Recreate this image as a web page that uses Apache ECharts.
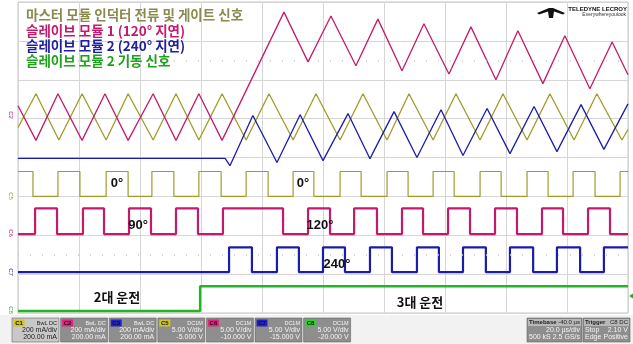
<!DOCTYPE html>
<html>
<head>
<meta charset="utf-8">
<script src="https://cdn.jsdelivr.net/npm/echarts@6/dist/echarts.min.js"></script>
<style>
html, body { margin: 0; padding: 0; background: #fff; }
#chart { width: 633px; height: 344px; }
</style>
</head>
<body>
<div id="chart"></div>
<script>
// time in us (20 us/div, 10 div), level in screen divisions (0 = bottom, 8 = top)
// inductor currents: vertices of the triangle waves [t, div]
var masterCurrent = [[0,4.77],[5.9,5.64],[13.4,4.45],[21.0,5.64],[28.9,4.45],[36.1,5.64],[44.3,4.45],[51.8,5.64],[59.3,4.45],[66.9,5.64],[74.8,4.45],[82.3,5.64],[90.2,4.45],[97.7,5.64],[105.6,4.45],[113.1,5.64],[121.0,4.45],[128.2,5.64],[136.1,4.45],[143.6,5.64],[151.5,4.45],[159.0,5.64],[166.9,4.45],[174.4,5.64],[182.3,4.45],[189.8,5.64],[198.0,4.45],[200,4.72]];
var slave1Current = [[0,5.33],[5.9,4.44],[13.1,5.64],[21.0,4.44],[28.5,5.64],[36.1,4.44],[44.3,5.64],[51.8,4.44],[59.3,5.64],[66.9,4.44],[87.2,7.74],[95.1,6.46],[102.6,7.64],[110.8,6.36],[118.0,7.56],[125.9,6.23],[133.1,7.44],[141.3,6.15],[148.5,7.36],[156.7,6.0],[163.9,7.26],[172.1,5.90],[179.3,7.13],[187.5,5.77],[194.8,6.97],[200,6.13]];
var slave2Current = [[0,3.98],[67.9,3.98],[69.5,3.79],[77.0,5.08],[84.9,3.87],[92.5,5.10],[100.0,3.92],[108.2,5.13],[115.4,3.97],[123.3,5.18],[130.8,4.0],[138.7,5.23],[145.9,4.05],[153.8,5.26],[161.3,4.10],[169.2,5.31],[176.7,4.15],[184.6,5.36],[192.1,4.21],[200,5.38]];

// gate signals: edge times (us), levels [low, high], starting level
var masterGateEdges = [4.9,13.1,20.3,28.9,36.1,43.9,51.1,59.3,66.6,74.8,82.0,90.2,97.0,105.6,112.5,121.0,127.9,136.1,143.0,151.5,158.4,166.9,173.8,182.0,189.2,197.4];
var masterGateLevel = [3.0, 3.64];
var slave1GateEdges = [5.6,12.8,21.3,28.2,36.4,43.6,51.8,59.0,67.2,86.9,95.1,102.3,110.2,117.7,125.9,132.8,141.0,148.2,156.4,163.6,171.8,178.7,186.9,194.1];
var slave1GateLevel = [2.03, 2.69];
var slave2GateEdges = [69.2,76.7,84.9,92.1,100.0,107.2,115.4,122.6,130.8,138.0,145.9,153.4,161.3,168.9,176.7,184.3,192.1];
var slave2GateLevel = [1.05, 1.69];
var startEdges = [59.7];
var startLevel = [0.05, 0.69];

var legendLines = ['마스터 모듈 인덕터 전류 및 게이트 신호', '슬레이브 모듈 1 (120° 지연)', '슬레이브 모듈 2 (240° 지연)', '슬레이브 모듈 2 기동 신호'];

var chanTags = ['C1', 'C2', 'C3', 'C5', 'C6', 'C7', 'C8'];
var chanCoupling = ['BwL DC', 'BwL DC', 'BwL DC', 'DC1M', 'DC1M', 'DC1M', 'DC1M'];
var chanScale = ['200 mA/div', '200 mA/div', '200 mA/div', '5.00 V/div', '5.00 V/div', '5.00 V/div', '5.00 V/div'];
var chanOffset = ['200.00 mA', '200.00 mA', '200.00 mA', '-5.000 V', '-10.000 V', '-15.000 V', '-20.000 V'];

var OLIVE = '#a09c2c', MAGENTA = '#c41a6c', BLUE = '#1c1caa', GREEN = '#22b626';
var tagColors = ['#d2c61e', '#e6207c', '#2222c8', '#d2c61e', '#e6207c', '#2222c8', '#2ad22a'];

function steps(edges, level, startHigh) {
  var lvl = startHigh ? 1 : 0;
  var pts = [[0, level[lvl]]];
  edges.forEach(function (t) {
    pts.push([t, level[lvl]]);
    lvl = 1 - lvl;
    pts.push([t, level[lvl]]);
  });
  pts.push([200, level[lvl]]);
  return pts;
}

function trace(data, color, width) {
  return {
    type: 'line',
    data: data,
    showSymbol: false,
    silent: true,
    lineStyle: { color: color, width: width },
    z: 3
  };
}

var chart = echarts.init(document.getElementById('chart'));

var graphics = [];
var legendColors = ['#8c8a4e', MAGENTA, '#20209e', '#1ea21e'];
var legendY = [15, 31, 46, 61];
legendLines.forEach(function (s, i) {
  graphics.push({ type: 'text', z: 10, style: { text: s, x: 26, y: legendY[i], fill: legendColors[i], font: 'bold 13.5px "Noto Sans CJK KR"', verticalAlign: 'middle' } });
});

// phase / operation labels
var notes = [['0°', 117, 183], ['0°', 303, 183], ['90°', 138, 225], ['120°', 320, 225], ['240°', 337, 264]];
notes.forEach(function (n) {
  graphics.push({ type: 'text', z: 10, style: { text: n[0], x: n[1], y: n[2], fill: '#111', font: 'bold 13px "Liberation Sans"', align: 'center', verticalAlign: 'middle' } });
});
graphics.push({ type: 'text', z: 10, style: { text: '2대 운전', x: 117, y: 297, fill: '#111', font: 'bold 13px "Noto Sans CJK KR"', align: 'center', verticalAlign: 'middle' } });
graphics.push({ type: 'text', z: 10, style: { text: '3대 운전', x: 420, y: 302, fill: '#111', font: 'bold 13px "Noto Sans CJK KR"', align: 'center', verticalAlign: 'middle' } });

// left channel markers
var markers = [['C2', 115, MAGENTA], ['C5', 196, OLIVE], ['C6', 233, MAGENTA], ['C7', 272, BLUE], ['C8', 310, GREEN]];
markers.forEach(function (m) {
  graphics.push({ type: 'text', z: 10, rotation: -Math.PI / 2, x: 11, y: m[1], style: { text: m[0], x: 0, y: 0, fill: m[2], font: '6px "Liberation Sans"', align: 'center', verticalAlign: 'middle' } });
});
graphics.push({ type: 'polygon', z: 10, shape: { points: [[629, 296], [633, 293.5], [633, 298.5]] }, style: { fill: GREEN } });

// logo
graphics.push({ type: 'polygon', z: 10, shape: { points: [[537, 13], [549, 8], [553, 8], [565, 13], [563, 14.5], [554, 11.5], [553, 18], [549, 18], [548, 11.5], [539, 14.5]] }, style: { fill: '#111' } });
graphics.push({ type: 'text', z: 10, style: { text: 'TELEDYNE LECROY', x: 627, y: 9, fill: '#111', font: 'bold 6px "Liberation Sans"', align: 'right', verticalAlign: 'middle' } });
graphics.push({ type: 'text', z: 10, style: { text: 'Everywhereyoulook', x: 626, y: 15, fill: '#333', font: '5px "Liberation Sans"', align: 'right', verticalAlign: 'middle' } });

// status bar
graphics.push({ type: 'rect', z: 5, shape: { x: 0, y: 315, width: 633, height: 29 }, style: { fill: '#f2f2f2' } });
chanTags.forEach(function (tag, i) {
  var x = 12 + i * 48.6, sel = i === 0;
  var txt = sel ? '#222' : '#f4f4f4';
  graphics.push({ type: 'rect', z: 6, shape: { x: x, y: 318, width: 47, height: 24 }, style: { fill: sel ? '#c8c8c8' : '#8e8e8e', stroke: '#666', lineWidth: 0.6 } });
  graphics.push({ type: 'rect', z: 7, shape: { x: x + 1.5, y: 319.5, width: 11, height: 7 }, style: { fill: tagColors[i] } });
  graphics.push({ type: 'text', z: 8, style: { text: tag, x: x + 7, y: 323.2, fill: '#111', font: 'bold 6px "Liberation Sans"', align: 'center', verticalAlign: 'middle' } });
  graphics.push({ type: 'text', z: 8, style: { text: chanCoupling[i], x: x + 45, y: 323, fill: txt, font: '5.5px "Liberation Sans"', align: 'right', verticalAlign: 'middle' } });
  graphics.push({ type: 'text', z: 8, style: { text: chanScale[i], x: x + 45, y: 330.5, fill: txt, font: '7px "Liberation Sans"', align: 'right', verticalAlign: 'middle' } });
  graphics.push({ type: 'text', z: 8, style: { text: chanOffset[i], x: x + 45, y: 337.5, fill: txt, font: '7px "Liberation Sans"', align: 'right', verticalAlign: 'middle' } });
});
function infoBox(x, w, head, headVal, l2a, l2b, l3a, l3b) {
  graphics.push({ type: 'rect', z: 6, shape: { x: x, y: 318, width: w, height: 24 }, style: { fill: '#8e8e8e', stroke: '#666', lineWidth: 0.6 } });
  graphics.push({ type: 'rect', z: 7, shape: { x: x + 1, y: 319, width: w - 2, height: 7 }, style: { fill: '#b8b8b8' } });
  graphics.push({ type: 'text', z: 8, style: { text: head, x: x + 2, y: 322.8, fill: '#222', font: 'bold 6px "Liberation Sans"', verticalAlign: 'middle' } });
  graphics.push({ type: 'text', z: 8, style: { text: headVal, x: x + w - 2, y: 322.8, fill: '#222', font: '6px "Liberation Sans"', align: 'right', verticalAlign: 'middle' } });
  graphics.push({ type: 'text', z: 8, style: { text: l2a, x: x + 2, y: 330.5, fill: '#f4f4f4', font: '7px "Liberation Sans"', verticalAlign: 'middle' } });
  graphics.push({ type: 'text', z: 8, style: { text: l2b, x: x + w - 2, y: 330.5, fill: '#f4f4f4', font: '7px "Liberation Sans"', align: 'right', verticalAlign: 'middle' } });
  graphics.push({ type: 'text', z: 8, style: { text: l3a, x: x + 2, y: 337.5, fill: '#f4f4f4', font: '7px "Liberation Sans"', verticalAlign: 'middle' } });
  graphics.push({ type: 'text', z: 8, style: { text: l3b, x: x + w - 2, y: 337.5, fill: '#f4f4f4', font: '7px "Liberation Sans"', align: 'right', verticalAlign: 'middle' } });
}
infoBox(527, 55, 'Timebase', '-40.0 µs', '', '20.0 µs/div', '500 kS', '2.5 GS/s');
infoBox(583, 47, 'Trigger', 'C8 DC', 'Stop', '2.10 V', 'Edge', 'Positive');

var option = {
  animation: false,
  backgroundColor: '#fff',
  grid: { left: 18, right: 5, top: 2, bottom: 31, show: true, borderColor: '#c4c4c4', borderWidth: 1 },
  xAxis: {
    type: 'value', min: 0, max: 200, interval: 20,
    axisLine: { show: false }, axisTick: { show: false }, axisLabel: { show: false },
    splitLine: { show: true, lineStyle: { color: '#d6d6d6', width: 1 } }
  },
  yAxis: {
    type: 'value', min: 0, max: 8, interval: 1,
    axisLine: { show: false }, axisTick: { show: false }, axisLabel: { show: false },
    splitLine: { show: true, lineStyle: { color: '#d6d6d6', width: 1 } }
  },
  series: [
    trace(masterCurrent, OLIVE, 1.3),
    trace(slave1Current, MAGENTA, 1.3),
    trace(slave2Current, BLUE, 1.3),
    trace(steps(masterGateEdges, masterGateLevel, true), OLIVE, 1.2),
    trace(steps(slave1GateEdges, slave1GateLevel, false), MAGENTA, 2.2),
    trace(steps(slave2GateEdges, slave2GateLevel, false), BLUE, 2.2),
    trace(steps(startEdges, startLevel, false), GREEN, 2.4),
    {
      type: 'line', data: [], silent: true,
      markLine: {
        symbol: 'none', silent: true, label: { show: false },
        lineStyle: { color: '#c8c8c8', type: [1, 11], width: 1.5 },
        data: [{ yAxis: 6.5 }, { yAxis: 1.5 }]
      }
    }
  ],
  graphic: graphics
};
chart.setOption(option);
</script>
</body>
</html>
